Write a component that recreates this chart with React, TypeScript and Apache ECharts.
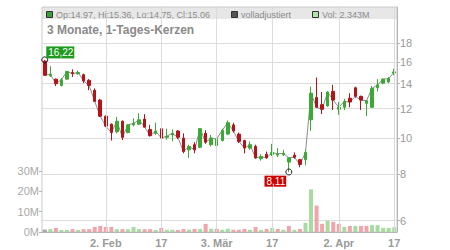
import React, { useEffect, useRef } from "react";
import * as echarts from "echarts";

// Trading days (NYSE 2026)
const dates = [
  "2026-01-15", "2026-01-16", "2026-01-20", "2026-01-21", "2026-01-22", "2026-01-23",
  "2026-01-26", "2026-01-27", "2026-01-28", "2026-01-29", "2026-01-30",
  "2026-02-02", "2026-02-03", "2026-02-04", "2026-02-05", "2026-02-06",
  "2026-02-09", "2026-02-10", "2026-02-11", "2026-02-12", "2026-02-13",
  "2026-02-17", "2026-02-18", "2026-02-19", "2026-02-20",
  "2026-02-23", "2026-02-24", "2026-02-25", "2026-02-26", "2026-02-27",
  "2026-03-02", "2026-03-03", "2026-03-04", "2026-03-05", "2026-03-06",
  "2026-03-09", "2026-03-10", "2026-03-11", "2026-03-12", "2026-03-13",
  "2026-03-16", "2026-03-17", "2026-03-18", "2026-03-19", "2026-03-20",
  "2026-03-23", "2026-03-24", "2026-03-25", "2026-03-26", "2026-03-27",
  "2026-03-30", "2026-03-31", "2026-04-01", "2026-04-02",
  "2026-04-06", "2026-04-07", "2026-04-08", "2026-04-09", "2026-04-10",
  "2026-04-13", "2026-04-14", "2026-04-15", "2026-04-16", "2026-04-17",
];

const opens = [
  16.10, 14.70, 14.40, 13.85, 14.40, 15.00, 14.90, 14.80, 14.30, 13.45,
  12.65, 11.45, 10.90, 10.40, 11.10, 10.35, 10.85, 10.90, 11.25, 10.55,
  10.30, 10.60, 10.05, 10.20, 10.45, 10.00, 9.30, 9.60, 9.45, 10.30,
  9.60, 9.55, 9.85, 10.25, 10.85, 10.25, 9.85, 9.40, 9.50, 8.80,
  9.05, 9.03, 9.00, 9.02, 8.62, 9.00, 8.75, 8.75, 11.20, 12.85,
  12.30, 12.20, 13.35, 11.95, 12.10, 12.80, 13.65, 12.95, 12.40, 12.10,
  13.65, 14.05, 14.15, 14.97,
];
const highs = [
  16.22, 15.60, 14.45, 14.50, 15.15, 15.30, 15.20, 14.90, 14.40, 13.60,
  12.75, 11.50, 10.95, 11.40, 11.15, 10.90, 11.30, 11.65, 11.60, 10.85,
  11.00, 10.65, 10.60, 10.55, 10.50, 10.30, 9.60, 9.75, 10.65, 10.50,
  10.20, 10.10, 10.60, 11.15, 11.00, 10.35, 9.90, 9.80, 9.60, 9.05,
  9.20, 9.65, 9.40, 9.30, 8.85, 9.15, 8.80, 9.30, 13.75, 14.55,
  13.30, 13.35, 13.90, 12.50, 12.75, 13.20, 13.75, 13.00, 12.65, 13.80,
  14.40, 14.45, 14.60, 15.36,
];
const lows = [
  14.70, 14.60, 13.80, 13.75, 14.40, 14.60, 14.80, 14.05, 13.45, 12.50,
  11.40, 10.70, 9.85, 10.30, 9.88, 10.30, 10.75, 10.85, 10.70, 10.10,
  10.20, 9.70, 9.90, 9.80, 9.95, 9.10, 8.85, 9.10, 9.40, 9.65,
  9.50, 9.45, 9.80, 10.20, 10.35, 9.70, 9.10, 9.30, 8.80, 8.70,
  8.80, 8.95, 8.90, 8.95, 8.11, 8.80, 8.35, 8.45, 10.45, 12.05,
  11.60, 12.15, 11.90, 11.55, 11.90, 12.10, 12.85, 11.90, 11.45, 12.05,
  13.35, 13.95, 14.05, 14.75,
];
const closes = [
  14.75, 14.85, 14.00, 14.35, 15.10, 14.90, 15.00, 14.25, 13.85, 12.55,
  11.45, 10.77, 10.35, 11.10, 10.05, 10.85, 10.95, 11.20, 10.70, 10.15,
  10.45, 10.00, 10.12, 10.30, 10.05, 9.20, 9.50, 9.30, 10.60, 9.75,
  10.00, 9.95, 10.50, 11.00, 10.45, 9.80, 9.40, 9.60, 8.85, 8.92,
  8.85, 9.15, 9.07, 9.10, 8.85, 8.88, 8.50, 9.15, 13.20, 12.10,
  11.95, 13.30, 12.65, 12.10, 12.55, 12.50, 12.95, 12.65, 12.60, 13.60,
  13.90, 14.40, 14.45, 15.06,
];
// Volume in millions
const volumes = [
  1.2, 1.4, 2.0, 1.0, 1.0, 1.4, 1.0, 1.4, 1.4, 2.5,
  3.0, 2.5, 2.5, 1.4, 1.4, 1.4, 2.4, 1.4, 1.4, 1.4,
  1.0, 2.0, 1.1, 1.1, 1.0, 1.5, 1.1, 1.5, 1.5, 4.0,
  1.6, 1.5, 1.1, 1.6, 1.1, 1.1, 1.5, 1.1, 2.5, 1.0,
  1.5, 2.0, 1.5, 1.1, 3.0, 1.1, 1.5, 4.5, 21.0, 13.0,
  4.0, 5.5, 5.0, 4.0, 2.5, 3.0, 3.0, 3.0, 3.0, 3.4,
  3.4, 2.0, 2.0, 2.343,
];

const xTickDates = ["2026-02-02", "2026-02-17", "2026-03-03", "2026-03-17", "2026-04-02", "2026-04-17"];
const xTickTexts = ["2. Feb", "17", "3. Mär", "17", "2. Apr", "17"];
const priceTicks = [6, 8, 10, 12, 14, 16, 18];
const volumeTicks = [0, 10, 20, 30];
const priceAxisMin = 5.595;
const priceAxisMax = 22.5;

const titleText = "3 Monate, 1-Tages-Kerzen";
const legendOhlc = "Op:14.97, Hi:15.36, Lo:14.75, Cl:15.06";
const legendAdj = "volladjustiert";
const legendVol = "Vol: 2.343M";

const FONT = "'Liberation Sans', Arial, Helvetica, sans-serif";
const UP = "#3ba936";
const DOWN = "#b3141c";

function fmtDe(v: number) {
  return v.toFixed(2).replace(".", ",");
}

function buildOption() {
  const ln = Math.log;
  const tickLabelOf: Record<string, string> = {};
  xTickDates.forEach((d, i) => (tickLabelOf[d] = xTickTexts[i]));

  const candleData = dates.map((_, i) => [ln(opens[i]), ln(closes[i]), ln(lows[i]), ln(highs[i])]);
  const volData = volumes.map((v, i) => ({
    value: v,
    itemStyle: {
      color: i === 0 ? "#a6a6a6" : closes[i] >= closes[i - 1] ? "#a8dba1" : "#eea5ac",
    },
  }));

  return {
    animation: false,
    grid: [
      { left: 42, top: 7, width: 355, height: 225, show: true, borderColor: "#cacaca", borderWidth: 1, backgroundColor: "transparent" },
      { left: 42, top: 171, width: 355, height: 61 },
    ],
    xAxis: [
      {
        type: "category", gridIndex: 0, data: dates, boundaryGap: true,
        axisLine: { show: false }, axisTick: { show: false }, axisLabel: { show: false }, splitLine: { show: false },
      },
      {
        type: "category", gridIndex: 1, data: dates, boundaryGap: true,
        axisLine: { show: true, lineStyle: { color: "#b5b5b5" } },
        axisTick: { show: false },
        splitLine: { show: false },
        axisLabel: {
          interval: (_i: number, v: string) => v in tickLabelOf,
          formatter: (v: string) => tickLabelOf[v] ?? "",
          color: "#9a9a9a", fontSize: 11, fontWeight: "bold", fontFamily: FONT, margin: 5,
        },
      },
    ],
    yAxis: [
      {
        type: "value", gridIndex: 0, position: "right",
        min: ln(priceAxisMin), max: ln(priceAxisMax),
        axisLine: { show: true, lineStyle: { color: "#b5b5b5" } },
        axisTick: { show: true, customValues: priceTicks.map(ln), length: 3, lineStyle: { color: "#b5b5b5" } },
        axisLabel: {
          customValues: priceTicks.map(ln),
          formatter: (v: number) => String(Math.round(Math.exp(v))),
          color: "#9a9a9a", fontSize: 11, fontFamily: FONT, margin: 3,
        },
        splitLine: { show: true, lineStyle: { color: "#dcdcdc", width: 1 } },
      },
      {
        type: "value", gridIndex: 1, position: "left", min: 0, max: 30, interval: 10,
        axisLine: { show: false },
        axisTick: { show: true, length: 3, lineStyle: { color: "#b5b5b5" } },
        axisLabel: {
          customValues: volumeTicks,
          formatter: (v: number) => v + "M",
          color: "#a8a8a8", fontSize: 11, fontFamily: FONT, margin: 3,
        },
        splitLine: { show: false },
      },
    ],
    series: [
      {
        type: "bar", xAxisIndex: 1, yAxisIndex: 1, data: volData, barWidth: 4, z: 1, silent: true,
      },
      {
        type: "line", xAxisIndex: 0, yAxisIndex: 0, data: closes.map(ln), symbol: "none", z: 2, silent: true,
        lineStyle: { color: "#8c8c8c", width: 1 },
        markLine: {
          silent: true, symbol: "none", label: { show: false },
          lineStyle: { color: "#dcdcdc", type: "solid", width: 1 },
          data: xTickDates.map((d) => ({ xAxis: d })),
        },
      },
      {
        type: "candlestick", xAxisIndex: 0, yAxisIndex: 0, data: candleData, barWidth: 3, z: 3, silent: true,
        itemStyle: { color: UP, color0: DOWN, borderColor: UP, borderColor0: DOWN, borderWidth: 1 },
        markPoint: {
          symbol: "circle", symbolSize: 6, silent: true,
          itemStyle: { color: "rgba(255,255,255,0)", borderColor: "#222", borderWidth: 1 },
          data: [
            {
              type: "max", valueDim: "highest",
              label: {
                show: true, position: "inside", offset: [15.5, -7.5],
                formatter: (p: any) => fmtDe(Math.exp(p.value)),
                color: "#fff", backgroundColor: "#1e9a1e", fontSize: 10, fontFamily: FONT,
                padding: [1, 1, 0, 2], lineHeight: 11,
              },
            },
            {
              type: "min", valueDim: "lowest",
              label: {
                show: true, position: "inside", offset: [-13.5, 9.2],
                formatter: (p: any) => fmtDe(Math.exp(p.value)),
                color: "#fff", backgroundColor: "#cf0000", fontSize: 10, fontFamily: FONT,
                padding: [1, 1, 0, 2], lineHeight: 10,
              },
            },
          ],
        },
      },
    ],
    graphic: [
      { type: "rect", silent: true, z: -10, shape: { x: 42, y: 7, width: 355, height: 12 }, style: { fill: "#e7e7e7" } },
      { type: "rect", silent: true, z: 10, shape: { x: 46.5, y: 11.5, width: 6, height: 6 }, style: { fill: "#3a9f35", stroke: "#333", lineWidth: 1 } },
      { type: "text", silent: true, z: 10, x: 56, y: 15, style: { text: legendOhlc, fill: "#8c8c8c", font: `9px ${FONT}`, verticalAlign: "middle", align: "left" } },
      { type: "rect", silent: true, z: 10, shape: { x: 231.5, y: 11.5, width: 6, height: 6 }, style: { fill: "#555", stroke: "#333", lineWidth: 1 } },
      { type: "text", silent: true, z: 10, x: 241, y: 15, style: { text: legendAdj, fill: "#8c8c8c", font: `9px ${FONT}`, verticalAlign: "middle", align: "left" } },
      { type: "rect", silent: true, z: 10, shape: { x: 312.5, y: 11.5, width: 6, height: 6 }, style: { fill: "#b4e2ae", stroke: "#333", lineWidth: 1 } },
      { type: "text", silent: true, z: 10, x: 322, y: 15, style: { text: legendVol, fill: "#8c8c8c", font: `9px ${FONT}`, verticalAlign: "middle", align: "left" } },
      { type: "text", silent: true, z: 10, x: 47, y: 30, style: { text: titleText, fill: "#8a8a8a", font: `bold 12px ${FONT}`, verticalAlign: "middle", align: "left" } },
    ],
  };
}

export default function App() {
  const ref = useRef<HTMLDivElement>(null);
  useEffect(() => {
    if (!ref.current) return;
    const chart = echarts.init(ref.current, undefined, { renderer: "svg" });
    chart.setOption(buildOption() as any);
    return () => chart.dispose();
  }, []);
  return (
    <div
      ref={ref}
      style={{ position: "fixed", left: 0, top: 0, width: 450, height: 250, background: "#fff" }}
    />
  );
}
